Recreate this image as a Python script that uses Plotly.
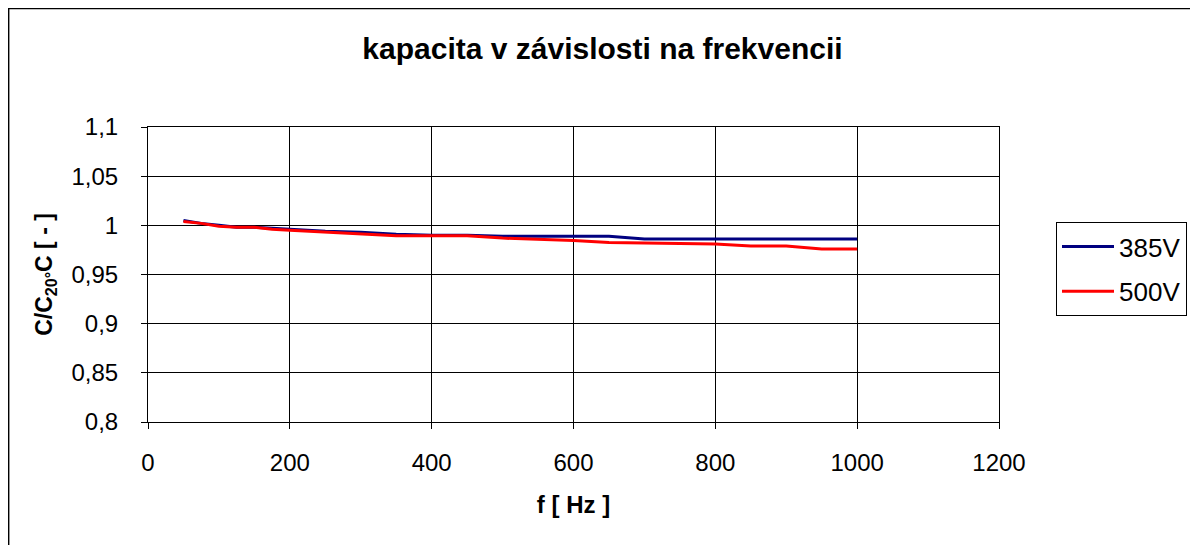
import plotly.graph_objects as go

freq = [50, 75, 100, 125, 150, 175, 200, 250, 300, 350, 400, 450, 500, 550, 600, 650, 700, 750, 800, 850, 900, 950, 1000]
c_385 = [1.005, 1.002, 1.0, 0.998, 0.998, 0.997, 0.996, 0.994, 0.993, 0.991, 0.990, 0.990, 0.989, 0.989, 0.989, 0.989,
         0.986, 0.986, 0.986, 0.986, 0.986, 0.986, 0.986]
c_500 = [1.004, 1.002, 0.999, 0.998, 0.998, 0.996, 0.995, 0.993, 0.991, 0.9895, 0.9895, 0.9895, 0.987, 0.986, 0.9845,
         0.9825, 0.982, 0.981, 0.981, 0.979, 0.979, 0.976, 0.976]

x_ticks = [0, 200, 400, 600, 800, 1000, 1200]
y_ticks = [0.8, 0.85, 0.9, 0.95, 1.0, 1.05, 1.1]
y_labels = ["0,8", "0,85", "0,9", "0,95", "1", "1,05", "1,1"]

font = "Liberation Sans, Arial, sans-serif"

fig = go.Figure()
fig.add_trace(go.Scatter(x=freq, y=c_385, mode="lines", name="385V", legendgroup="a",
                         line=dict(color="#000080", width=3)))
fig.add_trace(go.Scatter(x=freq, y=c_500, mode="lines", name="500V", legendgroup="b",
                         line=dict(color="#FF0000", width=3)))

# page has an 8px body margin: figure origin sits at page (8, 8)
OFF = 8
W, H = 1198 - OFF, 545 - OFF
L, T = 148 - OFF, 127 - OFF
R = W - (1000 - OFF)
B = H - (422 - OFF)
pw, ph = W - L - R, H - T - B

def px_x(page_x):
    return (page_x - OFF - L) / pw

def px_y(page_y):
    return (H - B - (page_y - OFF)) / ph

fig.update_layout(
    width=W, height=H,
    margin=dict(l=L, r=R, t=T, b=B),
    paper_bgcolor="white", plot_bgcolor="white",
    font=dict(family=font, size=24, color="black"),
    title=dict(text="<b>kapacita v závislosti na frekvencii</b>", x=px_x(603), xref="paper",
               xanchor="center", y=1 - (48 - OFF) / H, yanchor="middle", font=dict(size=30)),
    xaxis=dict(range=[0, 1200], tickvals=x_ticks, showgrid=True, gridcolor="black", gridwidth=1,
               showline=True, linecolor="black", linewidth=1, mirror=True, zeroline=False,
               ticks="outside", ticklen=6, tickcolor="black", ticklabelstandoff=13,
               title=dict(text="<b>f [ Hz ]</b>", font=dict(size=24), standoff=21)),
    yaxis=dict(range=[0.8, 1.1], tickvals=y_ticks, ticktext=y_labels, showgrid=True, gridcolor="black",
               gridwidth=1, showline=True, linecolor="black", linewidth=1, mirror=True, zeroline=False,
               ticks="outside", ticklen=6, tickcolor="black", ticklabelstandoff=18,
               title=dict(text="<b>C/C<sub>20°</sub>C [ - ]</b>", font=dict(size=23), standoff=12)),
    legend=dict(x=px_x(1056), xanchor="left", y=px_y(222), yanchor="top",
                bordercolor="black", borderwidth=1, bgcolor="white", font=dict(size=26),
                tracegroupgap=8, itemwidth=52),
    showlegend=True,
)

fig.add_shape(type="rect", xref="paper", yref="paper",
              x0=(0.5 - L) / pw, x1=px_x(1195), y0=px_y(560), y1=(H - B - 0.5) / ph,
              line=dict(color="black", width=1.5), layer="above")

fig.write_html("out.html")
